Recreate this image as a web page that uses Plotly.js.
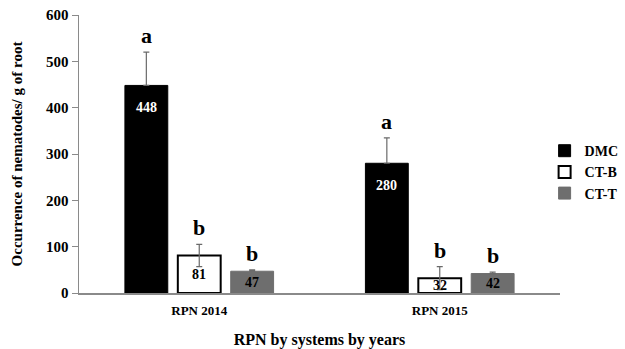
<!DOCTYPE html>
<html>
<head>
<meta charset="utf-8">
<script src="https://cdn.plot.ly/plotly-3.0.1.min.js"></script>
<style>html,body{margin:0;padding:0;background:#fff;}#chart{width:625px;height:349px;}</style>
</head>
<body>
<div id="chart"></div>
<script>
var categories = ['RPN 2014', 'RPN 2015'];
var seriesNames = ['DMC', 'CT-B', 'CT-T'];
var dmcValues = [448, 280];
var ctbValues = [81, 32];
var cttValues = [47, 42];
var dmcErrPlus = [72, 55];
var dmcErrMinus = [0, 0];
var ctbErrPlus = [24, 25];
var ctbErrMinus = [24, 25];
var cttErrPlus = [3, 3];
var cttErrMinus = [0, 0];
var dmcLetters = ['a', 'a'];
var ctbLetters = ['b', 'b'];
var cttLetters = ['b', 'b'];

var serif = 'Liberation Serif, Times New Roman, serif';
var errStyle = {color: '#6a6a6a', thickness: 1.2, width: 3};

function errObj(plus, minus) {
  return Object.assign({type: 'data', symmetric: false, array: plus, arrayminus: minus, visible: true}, errStyle);
}

var traces = [
  {type: 'bar', name: seriesNames[0], x: categories, y: dmcValues,
   marker: {color: '#000000', line: {color: '#000000', width: 1}},
   error_y: errObj(dmcErrPlus, dmcErrMinus)},
  {type: 'bar', name: seriesNames[1], x: categories, y: ctbValues,
   marker: {color: '#ffffff', line: {color: '#000000', width: 2}},
   error_y: errObj(ctbErrPlus, ctbErrMinus)},
  {type: 'bar', name: seriesNames[2], x: categories, y: cttValues,
   marker: {color: '#6e6e6e', line: {color: '#6e6e6e', width: 1}},
   error_y: errObj(cttErrPlus, cttErrMinus)}
];

var annotations = [];
var groups = [
  {vals: dmcValues, errs: dmcErrPlus, letters: dmcLetters, shift: -53, color: '#ffffff', big: true},
  {vals: ctbValues, errs: ctbErrPlus, letters: ctbLetters, shift: 0, color: '#000000', big: false},
  {vals: cttValues, errs: cttErrPlus, letters: cttLetters, shift: 53, color: '#000000', big: false}
];
groups.forEach(function(g) {
  categories.forEach(function(c, i) {
    annotations.push({
      x: c, y: g.vals[i] + g.errs[i], xref: 'x', yref: 'y',
      text: '<b>' + g.letters[i] + '</b>', showarrow: false,
      xshift: g.shift, yshift: 2, yanchor: 'bottom',
      font: {family: serif, size: 22, color: '#000000'}
    });
    annotations.push({
      x: c, y: g.big ? g.vals[i] : g.vals[i] / 2, xref: 'x', yref: 'y',
      text: '<b>' + g.vals[i] + '</b>', showarrow: false,
      xshift: g.shift, yshift: g.big ? -13 : 0, yanchor: g.big ? 'top' : 'middle',
      font: {family: serif, size: 14, color: g.color}
    });
  });
});

var layout = {
  width: 625, height: 349,
  margin: {l: 79, r: 65, t: 15, b: 56, autoexpand: false},
  paper_bgcolor: '#ffffff', plot_bgcolor: '#ffffff',
  barmode: 'group', bargap: 0.34, bargroupgap: 0.19,
  showlegend: true,
  legend: {x: 0.968, xanchor: 'left', y: 0.568, yanchor: 'top',
           font: {family: serif, size: 14, color: '#000000', weight: 'bold'},
           tracegroupgap: 0, itemwidth: 30, bgcolor: 'rgba(0,0,0,0)'},
  xaxis: {
    showline: true, linecolor: '#8a8a8a', linewidth: 1.5, ticks: '', showgrid: false, zeroline: false,
    ticklabelstandoff: 5,
    tickfont: {family: serif, size: 13, color: '#000000', weight: 'bold'},
    title: {text: 'RPN by systems by years', font: {family: serif, size: 16, color: '#000000', weight: 'bold'}, standoff: 19}
  },
  yaxis: {
    range: [0, 600], dtick: 100, showline: true, linecolor: '#8a8a8a', linewidth: 1.5,
    ticks: 'outside', ticklen: 6, tickcolor: '#8a8a8a', showgrid: false, zeroline: false,
    tickfont: {family: serif, size: 15, color: '#000000', weight: 'bold'},
    title: {text: 'Occurrence of nematodes/ g of root', font: {family: serif, size: 15, color: '#000000', weight: 'bold'}, standoff: 20}
  },
  annotations: annotations
};

Plotly.newPlot('chart', traces, layout, {displayModeBar: false, staticPlot: true});
</script>
</body>
</html>
